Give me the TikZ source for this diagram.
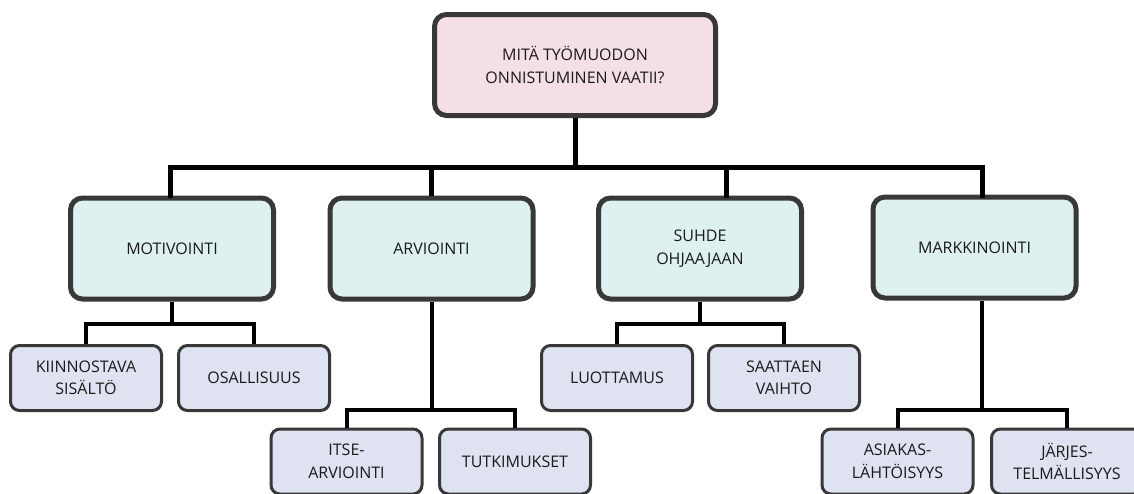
\documentclass[tikz,border=0pt]{standalone}
\usepackage{fontspec}
\setmainfont{Open Sans}
\definecolor{topfill}{HTML}{F5DFE6}
\definecolor{midfill}{HTML}{DFF0F0}
\definecolor{leaffill}{HTML}{DEE2F1}
\definecolor{edge}{HTML}{383838}
\definecolor{txt}{HTML}{1A1A1A}
\begin{document}
\begin{tikzpicture}[x=1pt,y=-1pt,
  box/.style={draw=edge, rounded corners=12pt, align=center, text=txt, inner sep=0pt, font=\fontsize{16}{22.5}\selectfont},
  topbox/.style={box, fill=topfill, line width=5pt, minimum width=281pt, minimum height=101pt},
  midbox/.style={box, fill=midfill, line width=5pt, minimum width=203pt, minimum height=101pt},
  leafbox/.style={box, fill=leaffill, line width=3pt, rounded corners=9pt, minimum width=151pt, minimum height=65pt},
  conn/.style={draw=black, line width=5pt},
  subconn/.style={draw=black, line width=4pt}]
\useasboundingbox (0,0) rectangle (1134,493);
% level 1
\node[topbox] (top) at (575,65) {MITÄ TYÖMUODON\\ONNISTUMINEN VAATII?};
% level 2
\node[midbox] (mot) at (172,248.5) {MOTIVOINTI};
\node[midbox] (arv) at (431.5,248.5) {ARVIOINTI};
\node[midbox] (suh) at (700,248.5) {SUHDE\\OHJAAJAAN};
\node[midbox] (mar) at (974.5,247.5) {MARKKINOINTI};
% level 3
\node[leafbox] (kii) at (86,378) {KIINNOSTAVA\\SISÄLTÖ};
\node[leafbox] (osa) at (254,378) {OSALLISUUS};
\node[leafbox] (its) at (346.5,461.5) {ITSE-\\ARVIOINTI};
\node[leafbox] (tut) at (515,461.5) {TUTKIMUKSET};
\node[leafbox] (luo) at (617,378) {LUOTTAMUS};
\node[leafbox] (saa) at (784,378) {SAATTAEN\\VAIHTO};
\node[leafbox] (asi) at (897.5,461.5) {ASIAKAS-\\LÄHTÖISYYS};
\node[leafbox] (jar) at (1067,461.5) {JÄRJES-\\TELMÄLLISYYS};
% bus coordinates
\coordinate (busL) at (170,167);
\coordinate (busR) at (982,167);
\coordinate (suhTop) at (726,198);
\coordinate (marTop) at (982,198);
\coordinate (motTop) at (170,198);
% main connectors
\draw[conn] (top.south) -- (top.south |- busL);
\draw[conn] (motTop) -- (busL) -- (busR) -- (marTop);
\draw[conn] (arv.north) -- (arv.north |- busL);
\draw[conn] (suhTop) -- (suhTop |- busL);
% sub connectors
\coordinate (motBus) at (0,324);
\coordinate (arvBus) at (0,410);
\coordinate (suhBus) at (0,324);
\coordinate (marBus) at (0,410);
\draw[subconn] (mot.south) -- (mot.south |- motBus);
\draw[subconn] (kii.north) |- (mot.south |- motBus) -| (osa.north);
\draw[subconn] (arv.south) -- (arv.south |- arvBus);
\draw[subconn] (its.north) |- (arv.south |- arvBus) -| (tut.north);
\draw[subconn] (suh.south) -- (suh.south |- suhBus);
\draw[subconn] (luo.north) |- (suh.south |- suhBus) -| (saa.north);
\draw[subconn] ([xshift=7.5pt]mar.south) -- ([xshift=7.5pt]mar.south |- marBus);
\draw[subconn] (asi.north) |- ([xshift=7.5pt]mar.south |- marBus) -| (jar.north);
\end{tikzpicture}
\end{document}
